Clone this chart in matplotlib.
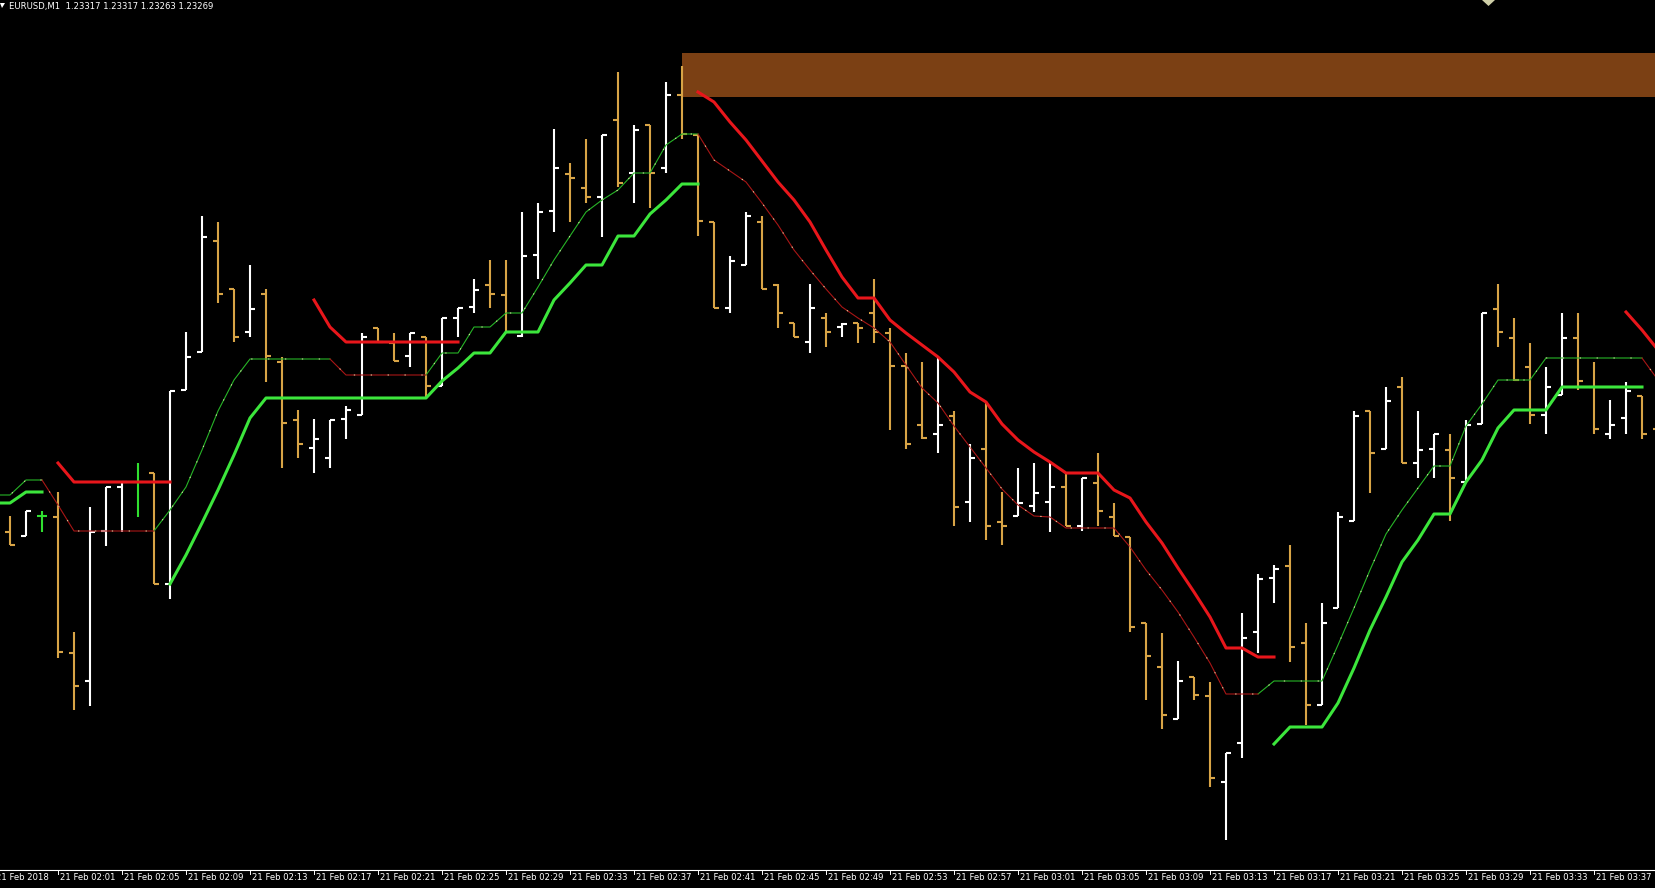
import numpy as np
import matplotlib
matplotlib.use('Agg')
from matplotlib import pyplot as plt
from matplotlib.collections import LineCollection
from matplotlib.patches import Rectangle, Polygon

# EURUSD M1, 21 Feb 2018 -- one bar per minute, first bar 01:58
opens = [1.23214, 1.23210, 1.23230, 1.23229, 1.23093, 1.23065, 1.23215, 1.23259,
         1.23264, 1.23273, 1.23162, 1.23356, 1.23394, 1.23505, 1.23457, 1.23414,
         1.23452, 1.23384, 1.23326, 1.23298, 1.23288, 1.23327, 1.23331, 1.23418,
         1.23403, 1.23390, 1.23409, 1.23360, 1.23428, 1.23439, 1.23461, 1.23451,
         1.23410, 1.23491, 1.23535, 1.23572, 1.23558, 1.23549, 1.23626, 1.23573,
         1.23621, 1.23578, 1.23651, 1.23611, 1.23524, 1.23438, 1.23481, 1.23524,
         1.23461, 1.23423, 1.23404, 1.23428, 1.23419, 1.23423, 1.23433, 1.23413,
         1.23380, 1.23321, 1.23312, 1.23330, 1.23244, 1.23297, 1.23224, 1.23230,
         1.23240, 1.23244, 1.23259, 1.23220, 1.23263, 1.23229, 1.23209, 1.23123,
         1.23079, 1.23027, 1.23069, 1.23050, 1.22964, 1.23003, 1.23114, 1.23168,
         1.23180, 1.23103, 1.23041, 1.23138, 1.23225, 1.23335, 1.23297, 1.23359,
         1.23283, 1.23297, 1.23296, 1.23264, 1.23322, 1.23437, 1.23408, 1.23379,
         1.23331, 1.23351, 1.23408, 1.23359, 1.23312, 1.23328, 1.23350, 1.23317]
highs = [1.23230, 1.23235, 1.23235, 1.23254, 1.23114, 1.23239, 1.23259, 1.23264,
         1.23283, 1.23273, 1.23355, 1.23414, 1.23530, 1.23524, 1.23457, 1.23481,
         1.23457, 1.23389, 1.23336, 1.23327, 1.23326, 1.23340, 1.23413, 1.23418,
         1.23413, 1.23413, 1.23409, 1.23428, 1.23438, 1.23467, 1.23486, 1.23486,
         1.23534, 1.23543, 1.23617, 1.23583, 1.23607, 1.23611, 1.23674, 1.23621,
         1.23621, 1.23664, 1.23680, 1.23611, 1.23524, 1.23490, 1.23534, 1.23530,
         1.23462, 1.23423, 1.23462, 1.23433, 1.23423, 1.23423, 1.23467, 1.23418,
         1.23393, 1.23384, 1.23389, 1.23335, 1.23302, 1.23345, 1.23254, 1.23278,
         1.23283, 1.23283, 1.23273, 1.23268, 1.23293, 1.23243, 1.23209, 1.23123,
         1.23113, 1.23085, 1.23069, 1.23064, 1.22993, 1.23133, 1.23172, 1.23181,
         1.23201, 1.23123, 1.23143, 1.23234, 1.23335, 1.23335, 1.23359, 1.23369,
         1.23335, 1.23312, 1.23312, 1.23326, 1.23433, 1.23462, 1.23428, 1.23403,
         1.23379, 1.23433, 1.23433, 1.23384, 1.23346, 1.23364, 1.23350, 1.23317]
lows = [1.23201, 1.23210, 1.23214, 1.23088, 1.23036, 1.23040, 1.23200, 1.23214,
        1.23229, 1.23162, 1.23147, 1.23356, 1.23394, 1.23443, 1.23404, 1.23409,
        1.23364, 1.23278, 1.23288, 1.23273, 1.23278, 1.23307, 1.23331, 1.23404,
        1.23385, 1.23379, 1.23347, 1.23360, 1.23409, 1.23433, 1.23438, 1.23414,
        1.23409, 1.23467, 1.23514, 1.23524, 1.23543, 1.23509, 1.23559, 1.23543,
        1.23538, 1.23573, 1.23607, 1.23510, 1.23438, 1.23433, 1.23481, 1.23457,
        1.23418, 1.23409, 1.23393, 1.23399, 1.23409, 1.23403, 1.23403, 1.23316,
        1.23297, 1.23307, 1.23293, 1.23220, 1.23224, 1.23206, 1.23201, 1.23230,
        1.23234, 1.23214, 1.23220, 1.23215, 1.23220, 1.23210, 1.23114, 1.23046,
        1.23017, 1.23027, 1.23046, 1.22959, 1.22906, 1.22988, 1.23093, 1.23143,
        1.23084, 1.23021, 1.23041, 1.23138, 1.23225, 1.23253, 1.23297, 1.23283,
        1.23268, 1.23268, 1.23225, 1.23264, 1.23322, 1.23399, 1.23365, 1.23322,
        1.23312, 1.23351, 1.23356, 1.23312, 1.23307, 1.23312, 1.23307, 1.23263]
closes = [1.23201, 1.23235, 1.23230, 1.23094, 1.23060, 1.23214, 1.23259, 1.23264,
          1.23264, 1.23162, 1.23355, 1.23389, 1.23509, 1.23452, 1.23409, 1.23437,
          1.23390, 1.23323, 1.23302, 1.23307, 1.23326, 1.23336, 1.23409, 1.23404,
          1.23385, 1.23413, 1.23360, 1.23428, 1.23438, 1.23456, 1.23452, 1.23414,
          1.23490, 1.23534, 1.23578, 1.23568, 1.23549, 1.23611, 1.23563, 1.23616,
          1.23573, 1.23651, 1.23612, 1.23525, 1.23438, 1.23485, 1.23530, 1.23457,
          1.23433, 1.23409, 1.23438, 1.23414, 1.23422, 1.23418, 1.23414, 1.23380,
          1.23302, 1.23308, 1.23321, 1.23239, 1.23288, 1.23220, 1.23220, 1.23243,
          1.23253, 1.23259, 1.23220, 1.23268, 1.23235, 1.23210, 1.23119, 1.23090,
          1.23031, 1.23065, 1.23051, 1.22968, 1.22993, 1.23108, 1.23167, 1.23177,
          1.23099, 1.23041, 1.23123, 1.23229, 1.23330, 1.23293, 1.23345, 1.23283,
          1.23296, 1.23312, 1.23268, 1.23321, 1.23433, 1.23414, 1.23366, 1.23331,
          1.23359, 1.23408, 1.23365, 1.23317, 1.23321, 1.23355, 1.23312, 1.23269]

# trailing stop buffers: (bar index of first value, values); index -1 = 01:57
stop_up = [(-1, [1.23243, 1.23243, 1.23254, 1.23254]),
           (10, [1.23162, 1.23191, 1.23223, 1.23256, 1.23291, 1.23328, 1.23348,
                 1.23348, 1.23348, 1.23348, 1.23348, 1.23348, 1.23348, 1.23348,
                 1.23348, 1.23348, 1.23348, 1.23365, 1.23378, 1.23393, 1.23393,
                 1.23414, 1.23414, 1.23414, 1.23446, 1.23463, 1.23481, 1.23481,
                 1.23510, 1.23510, 1.23532, 1.23546, 1.23562, 1.23562]),
           (79, [1.23002, 1.23019, 1.23019, 1.23019, 1.23043, 1.23078, 1.23116,
                 1.23149, 1.23184, 1.23206, 1.23232, 1.23232, 1.23264, 1.23286,
                 1.23318, 1.23336, 1.23336, 1.23336, 1.23359, 1.23359, 1.23359,
                 1.23359, 1.23359, 1.23359])]
trail_up = [(-1, [1.23251, 1.23251, 1.23266, 1.23266]),
            (9, [1.23215, 1.23236, 1.23259, 1.23296, 1.23335, 1.23366, 1.23387,
                 1.23387, 1.23387, 1.23387, 1.23387, 1.23387]),
            (26, [1.23371, 1.23393, 1.23393, 1.23419, 1.23419, 1.23433, 1.23433,
                  1.23459, 1.23486, 1.23510, 1.23534, 1.23546, 1.23556, 1.23573,
                  1.23573, 1.23601, 1.23612, 1.23612]),
            (78, [1.23052, 1.23065, 1.23065, 1.23065, 1.23065, 1.23101, 1.23138,
                  1.23176, 1.23212, 1.23236, 1.23258, 1.23280, 1.23280, 1.23320,
                  1.23342, 1.23366, 1.23366, 1.23366, 1.23388, 1.23388, 1.23388,
                  1.23388, 1.23388, 1.23388, 1.23388])]
stop_dn = [(3, [1.23283, 1.23264, 1.23264, 1.23264, 1.23264, 1.23264, 1.23264,
                1.23264]),
           (19, [1.23446, 1.23419, 1.23404, 1.23404, 1.23404, 1.23404, 1.23404,
                 1.23404, 1.23404, 1.23404]),
           (43, [1.23654, 1.23644, 1.23624, 1.23606, 1.23585, 1.23564, 1.23546,
                 1.23524, 1.23496, 1.23469, 1.23448, 1.23448, 1.23426, 1.23413,
                 1.23401, 1.23389, 1.23374, 1.23354, 1.23344, 1.23322, 1.23306,
                 1.23294, 1.23284, 1.23273, 1.23273, 1.23273, 1.23256, 1.23248,
                 1.23224, 1.23203, 1.23178, 1.23154, 1.23129, 1.23098, 1.23098,
                 1.23089, 1.23089]),
           (101, [1.23434, 1.23416, 1.23396])]
trail_dn = [(2, [1.23266, 1.23241, 1.23215, 1.23215, 1.23215, 1.23215, 1.23215,
                 1.23215]),
            (20, [1.23387, 1.23371, 1.23371, 1.23371, 1.23371, 1.23371, 1.23371]),
            (43, [1.23612, 1.23586, 1.23575, 1.23564, 1.23543, 1.23521, 1.23496,
                  1.23476, 1.23457, 1.23439, 1.23428, 1.23418, 1.23404, 1.23381,
                  1.23358, 1.23343, 1.23320, 1.23299, 1.23278, 1.23257, 1.23241,
                  1.23230, 1.23229, 1.23218, 1.23218, 1.23218, 1.23218, 1.23199,
                  1.23176, 1.23156, 1.23134, 1.23109, 1.23083, 1.23052, 1.23052,
                  1.23052]),
            (102, [1.23388, 1.23366])]

# supply zone drawn from the 02:40 bar to the right edge
zone_bar = 42
zone_low, zone_high = 1.23649, 1.23693

time_labels = ['21 Feb 2018', '21 Feb 02:01', '21 Feb 02:05', '21 Feb 02:09',
               '21 Feb 02:13', '21 Feb 02:17', '21 Feb 02:21', '21 Feb 02:25',
               '21 Feb 02:29', '21 Feb 02:33', '21 Feb 02:37', '21 Feb 02:41',
               '21 Feb 02:45', '21 Feb 02:49', '21 Feb 02:53', '21 Feb 02:57',
               '21 Feb 03:01', '21 Feb 03:05', '21 Feb 03:09', '21 Feb 03:13',
               '21 Feb 03:17', '21 Feb 03:21', '21 Feb 03:25', '21 Feb 03:29',
               '21 Feb 03:33', '21 Feb 03:37']
header = 'EURUSD,M1  1.23317 1.23317 1.23263 1.23269'

BULL = '#ffffff'
BEAR = '#d8a446'
DOJI = '#30e030'

fig = plt.figure(figsize=(16.55, 8.88), dpi=100, facecolor='black')
ax = fig.add_axes([0, 18/888, 1, 870/888], facecolor='black')

# OHLC bars, MT4 style: open tick left, close tick right
tick = 0.32
vsegs, osegs, csegs, cols = [], [], [], []
for i, (o, h, l, c) in enumerate(zip(opens, highs, lows, closes)):
    vsegs.append([(i, l), (i, h)])
    osegs.append([(i - tick, o), (i, o)])
    csegs.append([(i, c), (i + tick, c)])
    cols.append(BULL if c > o else BEAR if c < o else DOJI)
for segs in (vsegs, osegs, csegs):
    ax.add_collection(LineCollection(segs, colors=cols, linewidths=1.5,
                                     capstyle='butt', zorder=2))


def buffer(segments, n):
    y = np.full(n, np.nan)
    for start, vals in segments:
        y[start + 1:start + 1 + len(vals)] = vals
    return y


n = len(opens) + 1
xl = np.arange(-1, n - 1)
for segs, col in ((trail_up, '#27b427'), (trail_dn, '#a81616')):
    y = buffer(segs, n)
    ax.plot(xl, y, c=col, lw=0.8, zorder=3)
    # light dotted overlay seen on the thin trails
    ax.plot(xl, y, c='#f4f0b8', lw=0.8, zorder=3, alpha=0.8,
            linestyle=(3, (1.2, 14)))
ax.plot(xl, buffer(stop_up, n), c='#3ce63c', lw=2.2, zorder=4,
        solid_joinstyle='round')
ax.plot(xl, buffer(stop_dn, n), c='#e8161b', lw=2.2, zorder=4,
        solid_joinstyle='round')

ax.add_patch(Rectangle((zone_bar, zone_low), 200, zone_high - zone_low,
                       facecolor='#7b4014', lw=0, zorder=1))

ax.set_xlim(-0.625, 102.8125)
ax.set_ylim(1.22876, 1.23746)

for s in ('left', 'right', 'top'):
    ax.spines[s].set_visible(False)
ax.spines['bottom'].set_color('white')
ax.spines['bottom'].set_linewidth(0.8)
ax.set_xticks([])
ax.set_yticks([])

# time scale: tick below the line, label starting just right of it
xt = ax.get_xaxis_transform()
for k, lab in enumerate(time_labels):
    xi = -1 + 4 * k
    ax.plot([xi, xi], [0, -4/870], transform=xt, c='white', lw=0.7,
            clip_on=False)
    ax.text(xi + 1.5/16, -3/870, lab, transform=xt, color='white',
            fontsize=6.1, ha='left', va='top', clip_on=False)

fig.text(9/1655, 1 - 6/888, header, color='white', fontsize=6.1,
         va='center', ha='left')
fig.patches.append(Polygon([[0, 1 - 3/888], [5/1655, 1 - 3/888],
                            [2/1655, 1 - 8/888]], closed=True,
                           transform=fig.transFigure, facecolor='white',
                           lw=0))
fig.patches.append(Polygon([[1482/1655, 1], [1495/1655, 1],
                            [1488.5/1655, 1 - 6/888]], closed=True,
                           transform=fig.transFigure, facecolor='#cfcfa8',
                           lw=0))

fig.savefig('out.png', dpi=100, facecolor='black')
